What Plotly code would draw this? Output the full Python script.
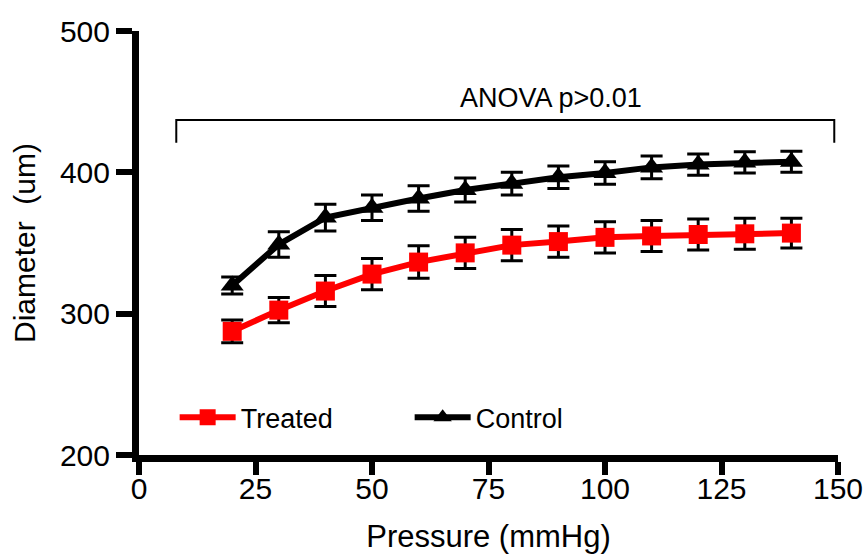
import plotly.graph_objects as go

pressure = [20, 30, 40, 50, 60, 70, 80, 90, 100, 110, 120, 130, 140]
treated = [287.5, 302.5, 316, 328, 336.5, 343, 348.5, 351, 354, 355, 356, 356.5, 357]
treated_err = [8, 9, 11, 11, 11.5, 11, 11, 11, 11, 11, 11, 11, 10.5]
control = [320, 349, 368, 375, 381.5, 387.5, 392, 396.5, 399.5, 403.5, 405.5, 407, 407.5]
control_err = [6, 9, 9.5, 9, 9, 8.5, 8, 8, 8, 8, 7.5, 7.5, 7.5]

x_ticks = [0, 25, 50, 75, 100, 125, 150]
y_ticks = [200, 300, 400, 500]

bracket_x = [8, 149.2]
bracket_top = 437
bracket_bottom = 421
anova_label = "ANOVA p>0.01"
anova_pos = (88.5, 452.5)

FONT = "Liberation Sans, Arial, sans-serif"

fig = go.Figure()
fig.add_trace(go.Scatter(
    x=pressure, y=treated, name="Treated", mode="lines+markers",
    line=dict(color="#ff0000", width=6),
    marker=dict(symbol="square", size=19, color="#ff0000"),
    error_y=dict(type="data", array=treated_err, visible=True,
                 color="black", thickness=3, width=11),
))
fig.add_trace(go.Scatter(
    x=pressure, y=control, name="Control", mode="lines+markers",
    line=dict(color="black", width=6),
    marker=dict(symbol="triangle-up", size=20, color="black"),
    error_y=dict(type="data", array=control_err, visible=True,
                 color="black", thickness=3, width=11),
))

# bracket
fig.add_shape(type="path",
              path=f"M {bracket_x[0]} {bracket_bottom} L {bracket_x[0]} {bracket_top} "
                   f"L {bracket_x[1]} {bracket_top} L {bracket_x[1]} {bracket_bottom}",
              xref="x", yref="y", line=dict(color="black", width=2))
fig.add_annotation(x=anova_pos[0], y=anova_pos[1], xref="x", yref="y",
                   text=anova_label, showarrow=False,
                   font=dict(size=27, color="black", family=FONT))

fig.update_layout(
    width=868, height=554,
    margin=dict(l=139, r=30, t=31, b=99),
    paper_bgcolor="white", plot_bgcolor="white",
    font=dict(family=FONT, size=26, color="black"),
    showlegend=True,
    legend=dict(orientation="h", x=0.051, y=0.088, xanchor="left", yanchor="middle",
                font=dict(size=27), bgcolor="rgba(0,0,0,0)",
                entrywidth=164, entrywidthmode="pixels", itemwidth=56),
)
fig.update_xaxes(range=[0, 150], tickvals=x_ticks, showgrid=False, zeroline=False,
                 automargin=False, ticklabeloverflow="allow",
                 showline=True, linecolor="black", linewidth=7,
                 ticks="outside", ticklen=13, tickwidth=6, tickcolor="black",
                 ticklabelstandoff=-12,
                 tickfont=dict(size=30),
                 title=dict(text="Pressure (mmHg)", font=dict(size=31), standoff=26))
fig.update_yaxes(range=[200, 500], tickvals=y_ticks, showgrid=False, zeroline=False,
                 automargin=False,
                 showline=True, linecolor="black", linewidth=7,
                 ticks="outside", ticklen=16, tickwidth=6, tickcolor="black",
                 tickfont=dict(size=30),
                 title=dict(text="Diameter  (um)", font=dict(size=30), standoff=18))

fig.write_html("out.html")
